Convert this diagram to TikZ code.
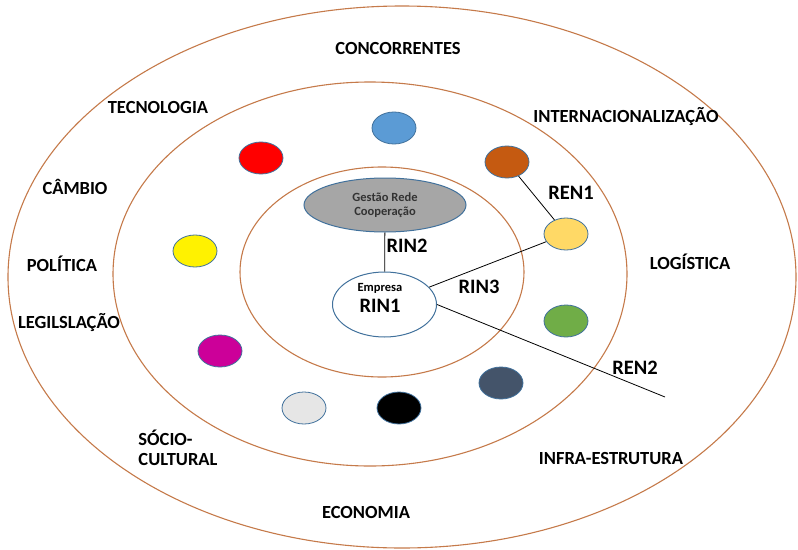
\documentclass[tikz,border=0pt]{standalone}
\usepackage{fontspec}
\setmainfont{Carlito}
\usetikzlibrary{positioning, shapes}

\definecolor{anel}{RGB}{197,122,74}
\definecolor{borda}{RGB}{65,113,156}
\definecolor{cinza}{RGB}{166,166,166}
\definecolor{azul}{RGB}{91,155,213}
\definecolor{laranja}{RGB}{197,90,17}
\definecolor{ouro}{RGB}{255,217,102}
\definecolor{verde}{RGB}{112,173,71}
\definecolor{magenta}{RGB}{204,0,153}
\definecolor{ardosia}{RGB}{68,84,106}
\definecolor{gelo}{RGB}{230,230,230}

\begin{document}
\begin{tikzpicture}[x=1pt, y=-1pt,
    fator/.style={font=\bfseries\fontsize{18.5}{20}\selectfont, inner sep=0pt, align=left},
    rede/.style={font=\bfseries\fontsize{20.5}{22}\selectfont, inner sep=0pt},
    membro/.style={draw=borda, line width=0.8pt, ellipse, minimum width=44pt, minimum height=32pt, inner sep=0pt}]

            \useasboundingbox (0,0) rectangle (798,549);

            % Draw rings
            \draw[anel, line width=1.1pt] (402,277) ellipse [x radius=394pt, y radius=271pt];
            \draw[anel, line width=1.1pt] (370,274) ellipse [x radius=257pt, y radius=192pt];
            \draw[anel, line width=1.1pt] (382,272) ellipse [x radius=142pt, y radius=105pt];

            \node[draw=borda, line width=1pt, fill=cinza, ellipse, minimum width=162pt, minimum height=54pt, inner sep=0pt, align=center, font=\bfseries\fontsize{12.5}{14}\selectfont, text=black!80] (gestao) at (385,205) {Gest\~ao Rede\\Coopera\c{c}\~ao};
            \node[draw=borda, line width=1pt, fill=white, ellipse, minimum width=104pt, minimum height=65pt, inner sep=0pt] (empresa) at (384.5,304.5) {};
            \node[font=\bfseries\fontsize{12.5}{14}\selectfont] (empresatxt) at (380,288) {Empresa};
            \node[rede] (rin1) at (380,306) {RIN1};

            \node[membro, fill=azul] (m1) at (394,128) {};
            \node[membro, fill=red] (m2) at (261,158) {};
            \node[membro, fill=laranja] (m3) at (507,162) {};
            \node[membro, fill=ouro] (m4) at (566,234) {};
            \node[membro, fill=yellow] (m5) at (195,251) {};
            \node[membro, fill=verde] (m6) at (566,321) {};
            \node[membro, fill=magenta] (m7) at (220,351) {};
            \node[membro, fill=ardosia] (m8) at (501,383) {};
            \node[membro, fill=black] (m9) at (399,408) {};
            \node[membro, fill=gelo] (m10) at (304,408) {};

            \coordinate (fim) at (665,397);

            % Draw edges
            \draw[line width=0.8pt] (gestao) -- (empresa);
            \draw[line width=0.8pt] (empresa) -- (m4);
            \draw[line width=0.8pt] (m3) -- (m4);
            \draw[line width=0.8pt] (empresa.east) -- (fim);

            \node[rede] (rin2) at (407,246) {RIN2};
            \node[rede] (rin3) at (479,287) {RIN3};
            \node[rede] (ren1) at (571,193) {REN1};
            \node[rede] (ren2) at (635,368) {REN2};

            \node[fator] (concorrentes) at (398,48) {CONCORRENTES};
            \node[fator] (tecnologia) at (158,107) {TECNOLOGIA};
            \node[fator] (internacional) at (626,117) {INTERNACIONALIZA\c{C}\~AO};
            \node[fator] (cambio) at (75,187) {C\^AMBIO};
            \node[fator] (politica) at (62,264) {POL\'ITICA};
            \node[fator] (logistica) at (690,262) {LOG\'ISTICA};
            \node[fator] (legislacao) at (69,323) {LEGILSLA\c{C}\~AO};
            \node[fator] (socio) at (178,448) {S\'OCIO-\\CULTURAL};
            \node[fator] (infra) at (611,458) {INFRA-ESTRUTURA};
            \node[fator] (economia) at (366,512) {ECONOMIA};

        \end{tikzpicture}
\end{document}
